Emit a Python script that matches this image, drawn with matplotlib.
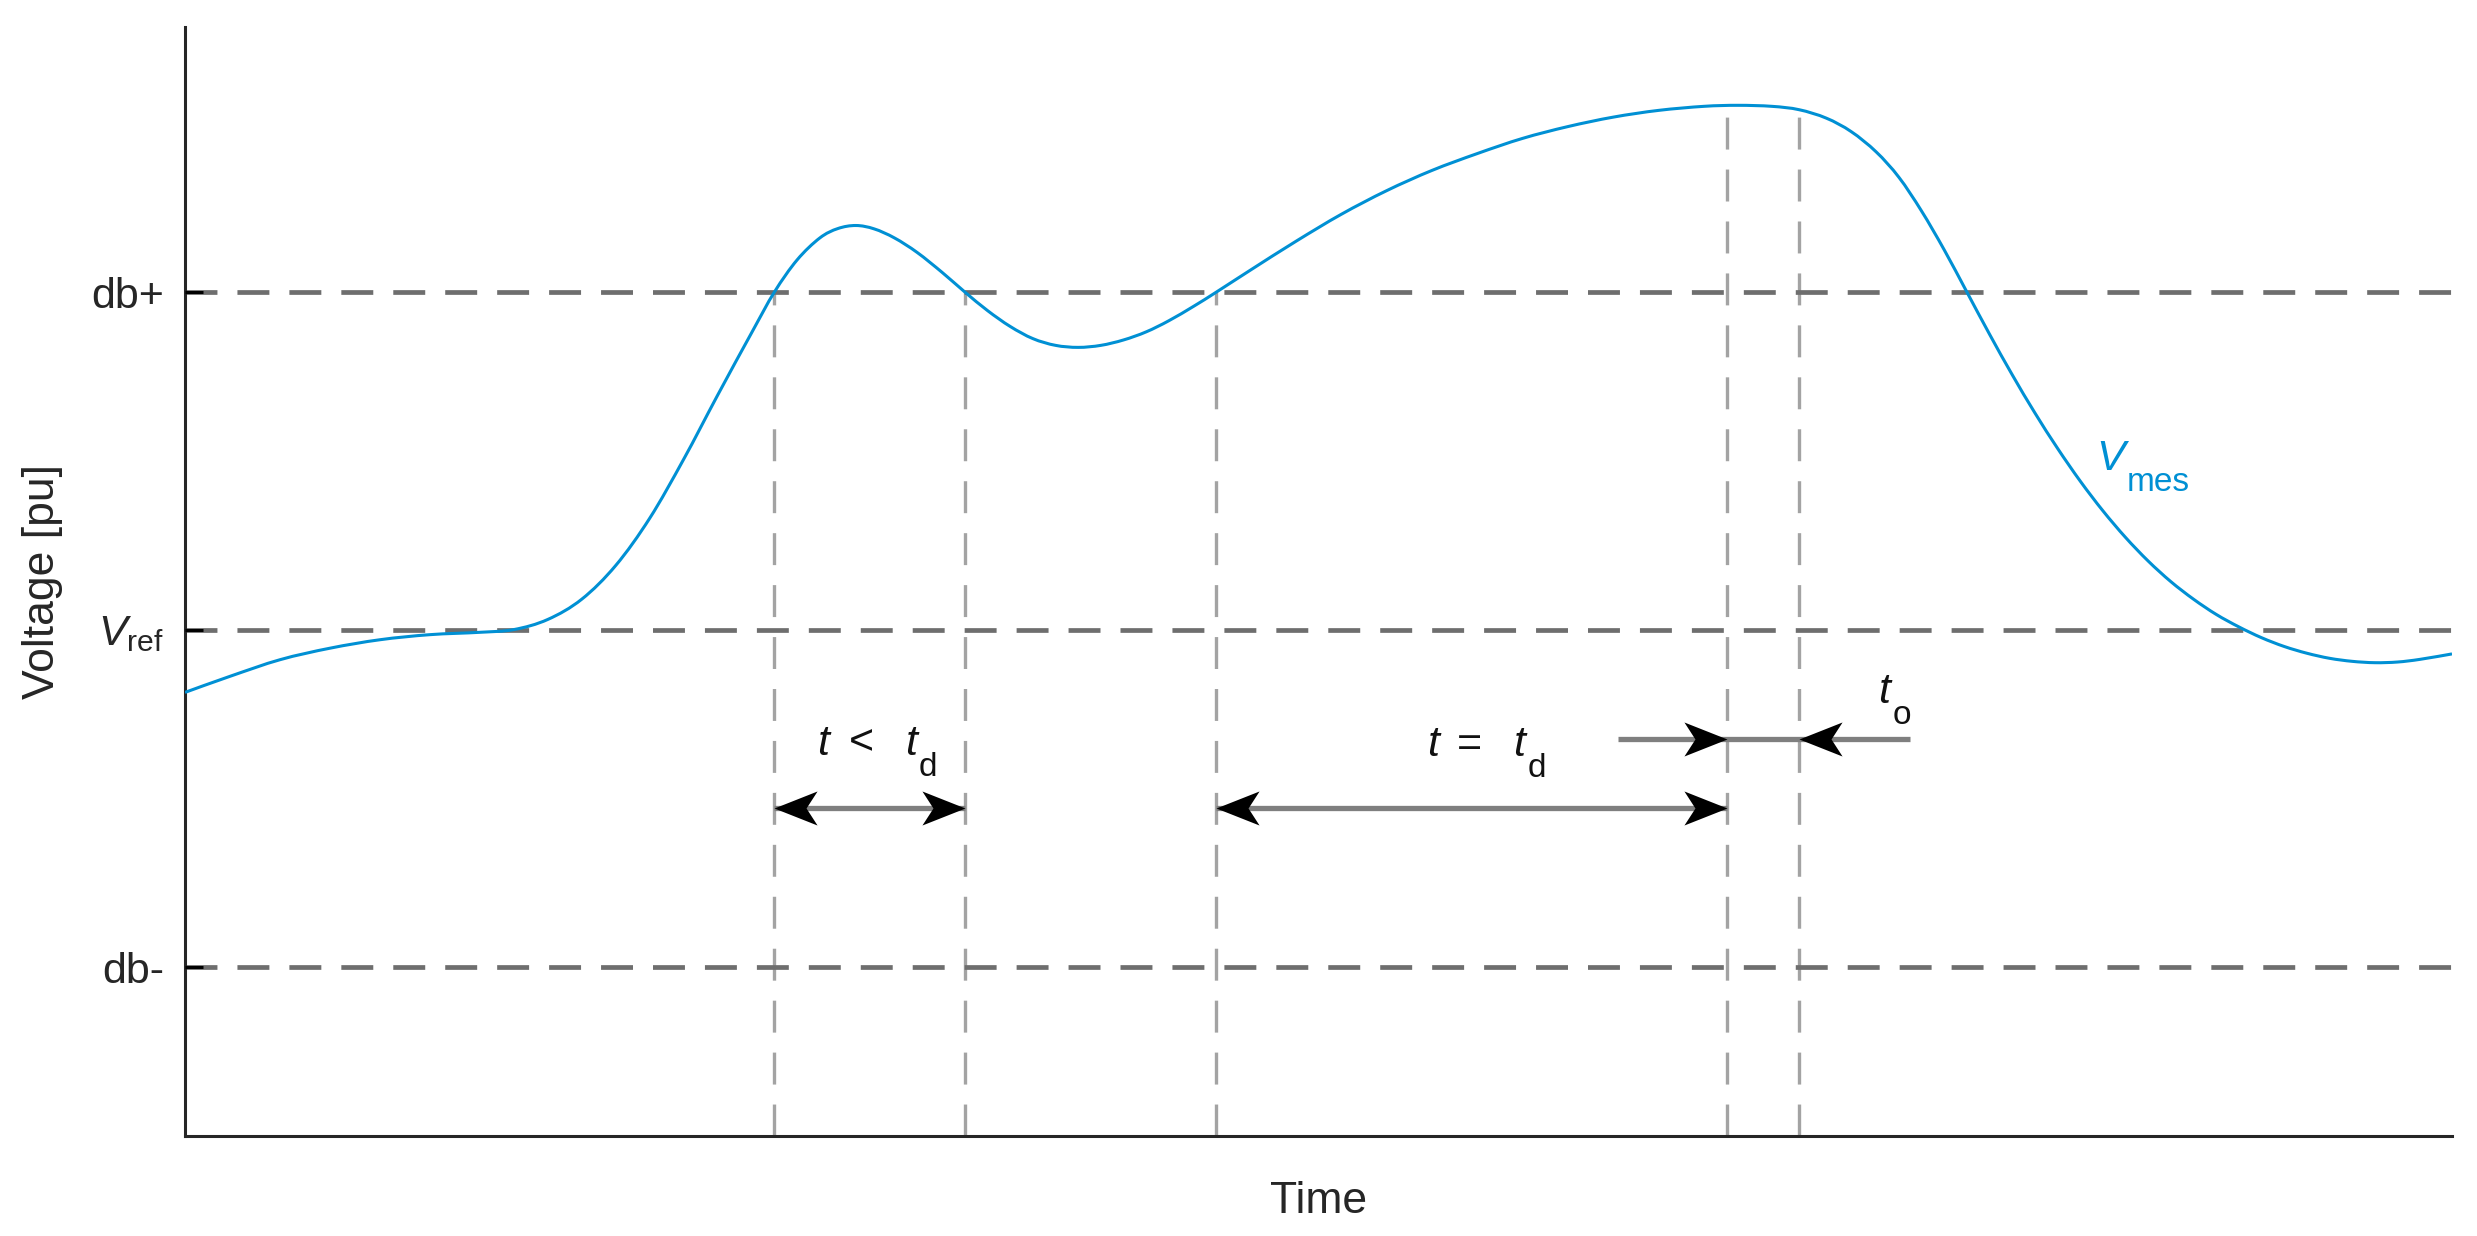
import matplotlib
matplotlib.use('Agg')
import matplotlib.pyplot as plt
from matplotlib.path import Path
from matplotlib.patches import PathPatch
from matplotlib.markers import MarkerStyle

# measured voltage, time in % of the window, voltage in deadband units (Vref = 0)
time = [0.0, 2.0, 4.2, 6.4, 8.6, 10.8, 13.0, 14.5, 16.0, 17.5, 19.0, 20.5,
        22.0, 23.5, 25.0, 26.0, 27.0, 28.0, 28.8, 29.6, 30.4, 31.3, 32.3, 33.4,
        34.4, 35.4, 36.4, 37.4, 38.4, 39.4, 40.4, 41.4, 42.4, 43.4, 44.5, 45.5,
        47.0, 49.0, 51.0, 53.0, 55.0, 57.0, 59.0, 61.0, 63.0, 65.0, 67.0, 68.5,
        70.0, 71.2, 72.4, 73.5, 74.6, 75.6, 76.6, 77.6, 78.6, 79.6, 80.6, 81.6,
        82.6, 83.6, 84.6, 85.6, 86.6, 87.6, 88.6, 89.6, 90.6, 91.6, 92.6, 93.6,
        94.6, 95.6, 96.6, 97.6, 98.6, 100.0]
v_mes = [-0.186, -0.138, -0.089, -0.055, -0.030, -0.015, -0.008, 0.000, 0.030,
         0.090, 0.190, 0.330, 0.505, 0.695, 0.880, 1.000, 1.095, 1.160, 1.188,
         1.197, 1.187, 1.160, 1.117, 1.058, 1.000, 0.945, 0.898, 0.862, 0.842,
         0.836, 0.842, 0.858, 0.882, 0.915, 0.958, 1.000, 1.065, 1.150, 1.230,
         1.300, 1.360, 1.410, 1.455, 1.490, 1.518, 1.538, 1.550, 1.553, 1.550,
         1.540, 1.515, 1.475, 1.415, 1.340, 1.240, 1.125, 1.000, 0.875, 0.755,
         0.642, 0.537, 0.440, 0.352, 0.273, 0.203, 0.142, 0.090, 0.045, 0.008,
         -0.024, -0.050, -0.070, -0.085, -0.094, -0.098, -0.096, -0.088, -0.072]

levels = [-1.0, 0.0, 1.0]
level_labels = ['db-', r'$V_{\mathrm{ref}}$', 'db+']

# crossing / event instants and where their guide lines stop
event_t = [26.0, 34.4, 45.5, 68.0, 71.2]
event_top = [1.0, 1.0, 1.0, 1.553, 1.54]

# durations
short_span = (26.0, 34.4)
long_span = (45.5, 68.0)
span_y = -0.527
to_y = -0.325
to_tails = (63.2, 76.1)
to_tips = (68.0, 71.2)

YMIN, YMAX = -1.5, 1.785
BLUE = '#0090d4'
TXT = '#262626'
DASH = (0, (23, 14.4))

plt.rcParams['font.family'] = ['Liberation Sans', 'DejaVu Sans']
plt.rcParams['mathtext.fontset'] = 'custom'
plt.rcParams['mathtext.rm'] = 'Liberation Sans'
plt.rcParams['mathtext.it'] = 'Liberation Sans:italic'
plt.rcParams['lines.scale_dashes'] = False

fig = plt.figure(figsize=(24.77, 12.36), dpi=100)
ax = fig.add_axes([185 / 2477, 1 - 1136 / 1236, 2267 / 2477, 1109 / 1236])

for x, top in zip(event_t, event_top):
    ax.plot([x, x], [YMIN, top], color='#a3a3a3', lw=2.4, ls=DASH, zorder=1)
for lvl in levels:
    ax.plot([0, 100], [lvl, lvl], color='#6e6e6e', lw=3.4, ls=DASH, zorder=1.5)


def smooth_path(xs, ys):
    '''Bezier path through the points (Catmull-Rom tangents).'''
    pts = list(zip(xs, ys))
    verts, codes = [pts[0]], [Path.MOVETO]
    n = len(pts)
    for i in range(n - 1):
        p0 = pts[max(i - 1, 0)]
        p1, p2 = pts[i], pts[i + 1]
        p3 = pts[min(i + 2, n - 1)]
        c1 = (p1[0] + (p2[0] - p0[0]) / 6, p1[1] + (p2[1] - p0[1]) / 6)
        c2 = (p2[0] - (p3[0] - p1[0]) / 6, p2[1] - (p3[1] - p1[1]) / 6)
        verts += [c1, c2, p2]
        codes += [Path.CURVE4] * 3
    return Path(verts, codes)


ax.add_patch(PathPatch(smooth_path(time, v_mes), fill=False, edgecolor=BLUE,
                       lw=2.2, zorder=3))

# arrow heads (swept back), tip at origin
head_r = Path([(0, 0), (-43, 17), (-32, 0), (-43, -17), (0, 0)],
              [Path.MOVETO, Path.LINETO, Path.LINETO, Path.LINETO, Path.CLOSEPOLY])
head_l = Path([(0, 0), (43, 17), (32, 0), (43, -17), (0, 0)],
              [Path.MOVETO, Path.LINETO, Path.LINETO, Path.LINETO, Path.CLOSEPOLY])
mk = dict(ms=62, mew=0, mfc='black', ls='none', zorder=5)
shaft = dict(color='#7f7f7f', lw=3.8, solid_capstyle='butt', zorder=4)

for a, b in (short_span, long_span):
    ax.plot([a, b], [span_y, span_y], **shaft)
    ax.plot([a], [span_y], marker=MarkerStyle(head_l), **mk)
    ax.plot([b], [span_y], marker=MarkerStyle(head_r), **mk)

ax.plot(to_tails, [to_y, to_y], **shaft)
ax.plot([to_tips[0]], [to_y], marker=MarkerStyle(head_r), **mk)
ax.plot([to_tips[1]], [to_y], marker=MarkerStyle(head_l), **mk)


def sub_label(x, y, parts, sub, color='#111111', size=31, sub_size=24, drop=14):
    '''Write parts (text, style, gap before in pt) then a lowered subscript.'''
    t = ax.text(x, y, parts[0][0], fontsize=size, style=parts[0][1],
                color=color, va='baseline')
    for s, st, gap in parts[1:]:
        t = ax.annotate(s, xy=(1, 0), xycoords=t, xytext=(gap, 0),
                        textcoords='offset points', fontsize=size, style=st,
                        color=color, va='bottom')
    ax.annotate(sub, xy=(1, 0), xycoords=t, xytext=(1.5, -drop),
                textcoords='offset points', fontsize=sub_size, color=color,
                va='bottom')


sub_label(27.9, -0.370, [('t', 'italic', 0), ('<', 'normal', 14), ('t', 'italic', 22)], 'd')
sub_label(54.8, -0.373, [('t', 'italic', 0), ('=', 'normal', 13), ('t', 'italic', 22)], 'd')
sub_label(74.7, -0.216, [('t', 'italic', 0)], 'o')
sub_label(84.3, 0.473, [('V', 'italic', 0)], 'mes', color=BLUE)

ax.set_xlim(0, 100)
ax.set_ylim(YMIN, YMAX)
ax.set_xticks([])
ax.set_yticks(levels, level_labels)
ax.set_axisbelow(False)
ax.tick_params(axis='y', direction='in', length=13, width=2.2, color='black',
               labelcolor=TXT, labelsize=31, pad=15)
for side in ('top', 'right'):
    ax.spines[side].set_visible(False)
for side in ('left', 'bottom'):
    ax.spines[side].set_linewidth(2.2)
    ax.spines[side].set_color(TXT)

ax.set_xlabel('Time', fontsize=32, color=TXT)
ax.set_ylabel('Voltage [pu]', fontsize=32, color=TXT)
ax.xaxis.set_label_coords(0.5, -0.041)
ax.yaxis.set_label_coords(-0.054, 0.5)

fig.savefig('out.png', dpi=100)
